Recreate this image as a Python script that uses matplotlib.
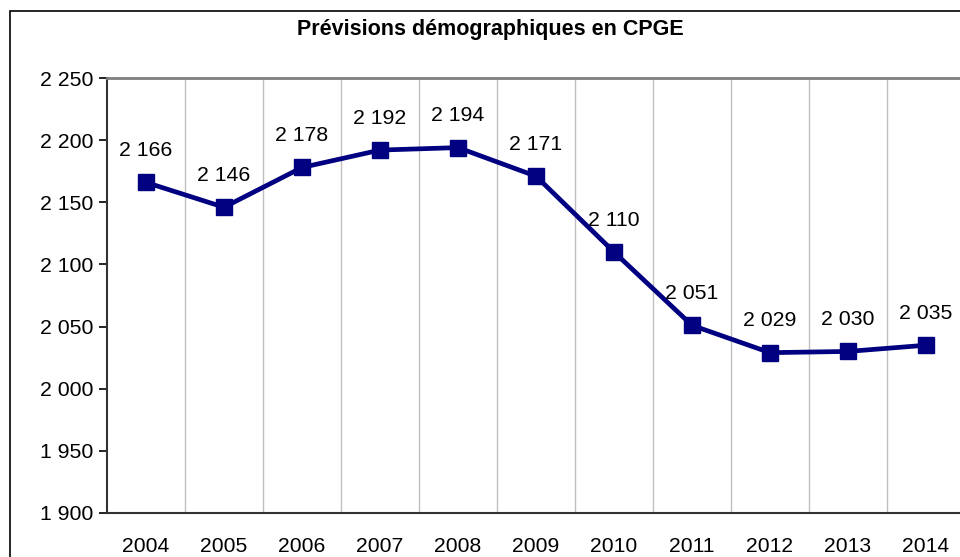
import numpy as np
import matplotlib.pyplot as plt
from matplotlib.patches import Rectangle
from matplotlib.ticker import FuncFormatter

plt.rcParams['font.family'] = ['Liberation Sans', 'DejaVu Sans']

annees = ['2004', '2005', '2006', '2007', '2008', '2009', '2010', '2011', '2012', '2013', '2014']
effectifs = [2166, 2146, 2178, 2192, 2194, 2171, 2110, 2051, 2029, 2030, 2035]
y_ticks = [1900, 1950, 2000, 2050, 2100, 2150, 2200, 2250]


def fmt(v):
    return f"{int(v):,}".replace(",", " ")


def main():
    fig = plt.figure(figsize=(9.6, 5.57), dpi=100)
    # cadre du graphique (coupé à droite et en bas)
    fig.patches.append(Rectangle((10 / 960, -0.05), 1.0, 1 - 11 / 557 + 0.05,
                                 transform=fig.transFigure, fill=False,
                                 edgecolor='black', linewidth=1.2))

    ax = fig.add_axes([107 / 960, 44 / 557, 858 / 960, 435 / 557])
    x = np.arange(len(annees))
    ax.plot(x, effectifs, color='#000080', linewidth=3.4, marker='s',
            markersize=11, zorder=3)
    for xi, v in zip(x, effectifs):
        ax.annotate(fmt(v), (xi, v), xytext=(0, 23), textcoords='offset points',
                    ha='center', va='center', fontsize=15.3)

    ax.set_xlim(-0.5, len(annees) - 0.5)
    ax.set_ylim(1900, 2250)
    ax.set_yticks(y_ticks)
    ax.yaxis.set_major_formatter(FuncFormatter(lambda v, p: fmt(v)))
    ax.set_xticks(x)
    ax.set_xticklabels(annees)
    ax.set_xticks(np.arange(0.5, len(annees) - 0.5), minor=True)
    ax.grid(which='minor', axis='x', color='#c0c0c0', linewidth=1)
    ax.tick_params(axis='x', which='both', length=0, labelsize=15.2, pad=17)
    ax.tick_params(axis='y', length=6, width=1.2, labelsize=15.3, pad=4)

    ax.spines['top'].set_color('#808080')
    ax.spines['top'].set_linewidth(2)
    ax.spines['right'].set_visible(False)
    ax.spines['left'].set_color('#333333')
    ax.spines['left'].set_linewidth(1.5)
    ax.spines['bottom'].set_color('#333333')
    ax.spines['bottom'].set_linewidth(1.5)

    fig.text(490 / 960, 1 - 30 / 557, "Prévisions démographiques en CPGE",
             ha='center', va='center', fontsize=15.5, fontweight='bold')

    fig.savefig('out.png', dpi=100)


if __name__ == "__main__":
    main()
